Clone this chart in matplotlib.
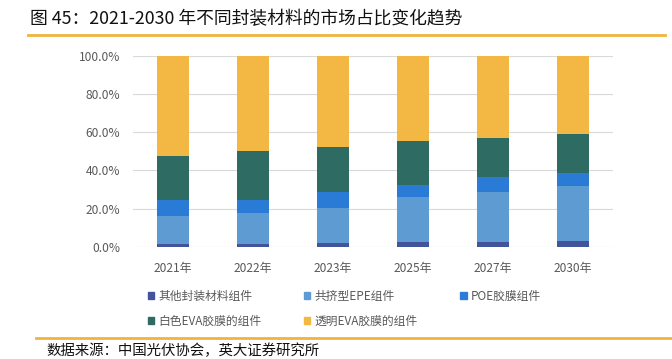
import matplotlib.pyplot as plt
import numpy as np
from matplotlib.lines import Line2D
from matplotlib.patches import Patch

plt.rcParams['font.family'] = ['Noto Sans CJK SC', 'DejaVu Sans']

years = ["2021年", "2022年", "2023年", "2025年", "2027年", "2030年"]
other = [1.4, 1.2, 2.1, 2.4, 2.3, 3.0]
epe = [14.8, 16.4, 18.0, 23.4, 26.5, 28.8]
poe = [8.1, 7.0, 8.5, 6.7, 7.5, 6.9]
white_eva = [23.2, 25.3, 23.8, 22.6, 20.4, 20.5]
clear_eva = [52.5, 50.1, 47.6, 44.9, 43.3, 40.8]

series = [
    ("其他封装材料组件", other, "#44549c"),
    ("共挤型EPE组件", epe, "#5e9bd3"),
    ("POE胶膜组件", poe, "#2a7bd6"),
    ("白色EVA胶膜的组件", white_eva, "#2e6b62"),
    ("透明EVA胶膜的组件", clear_eva, "#f2b843"),
]

fig = plt.figure(figsize=(6.72, 3.59), dpi=100)
W, H = 672, 359
ax = fig.add_axes([133 / W, 1 - 246.7 / H, 480 / W, 191 / H])

x = np.arange(len(years))
bottom = np.zeros(len(years))
for name, vals, col in series:
    ax.bar(x, vals, 0.4, bottom=bottom, color=col, label=name, zorder=3)
    bottom += np.array(vals)

ax.set_xlim(-0.5, len(years) - 0.5)
ax.set_ylim(0, 100)
ax.set_yticks(np.arange(0, 101, 20))
ax.set_yticklabels([f"{v:.1f}%" for v in np.arange(0, 101, 20)])
ax.set_xticks(x)
ax.set_xticklabels(years)
ax.yaxis.grid(True, color="#d9d9d9", linewidth=0.8, zorder=0)
ax.set_axisbelow(True)
for s in ax.spines.values():
    s.set_visible(False)
ax.tick_params(length=0, labelsize=8.6, colors="#595959", pad=9)
ax.tick_params(axis="x", pad=11)

# legend, row-major order
handles = [Patch(color=c) for _, _, c in series]
labels = [n for n, _, _ in series]
order = [0, 3, 1, 4, 2]
fig.legend([handles[i] for i in order], [labels[i] for i in order],
           ncol=3, loc="upper left", bbox_to_anchor=(143 / W, 1 - 285 / H),
           frameon=False, fontsize=8.5, labelcolor="#595959",
           handlelength=0.55, handleheight=0.55, handletextpad=0.35,
           columnspacing=3.6, labelspacing=1.05, borderaxespad=0)

# title, rules, source
fig.text(30 / W, 1 - 19 / H, "图 45：2021-2030 年不同封装材料的市场占比变化趋势",
         fontsize=12.8, va="center", ha="left", color="#111111")
fig.add_artist(Line2D([28 / W, 665 / W], [1 - 35 / H] * 2, color="#f0b43c", linewidth=2))
fig.add_artist(Line2D([36 / W, 672 / W], [1 - 338 / H] * 2, color="#f0b43c", linewidth=2))
fig.text(46 / W, 1 - 351 / H, "数据来源：中国光伏协会，英大证券研究所",
         fontsize=10.4, va="center", ha="left", color="#111111")

fig.savefig("out.png", dpi=100)
